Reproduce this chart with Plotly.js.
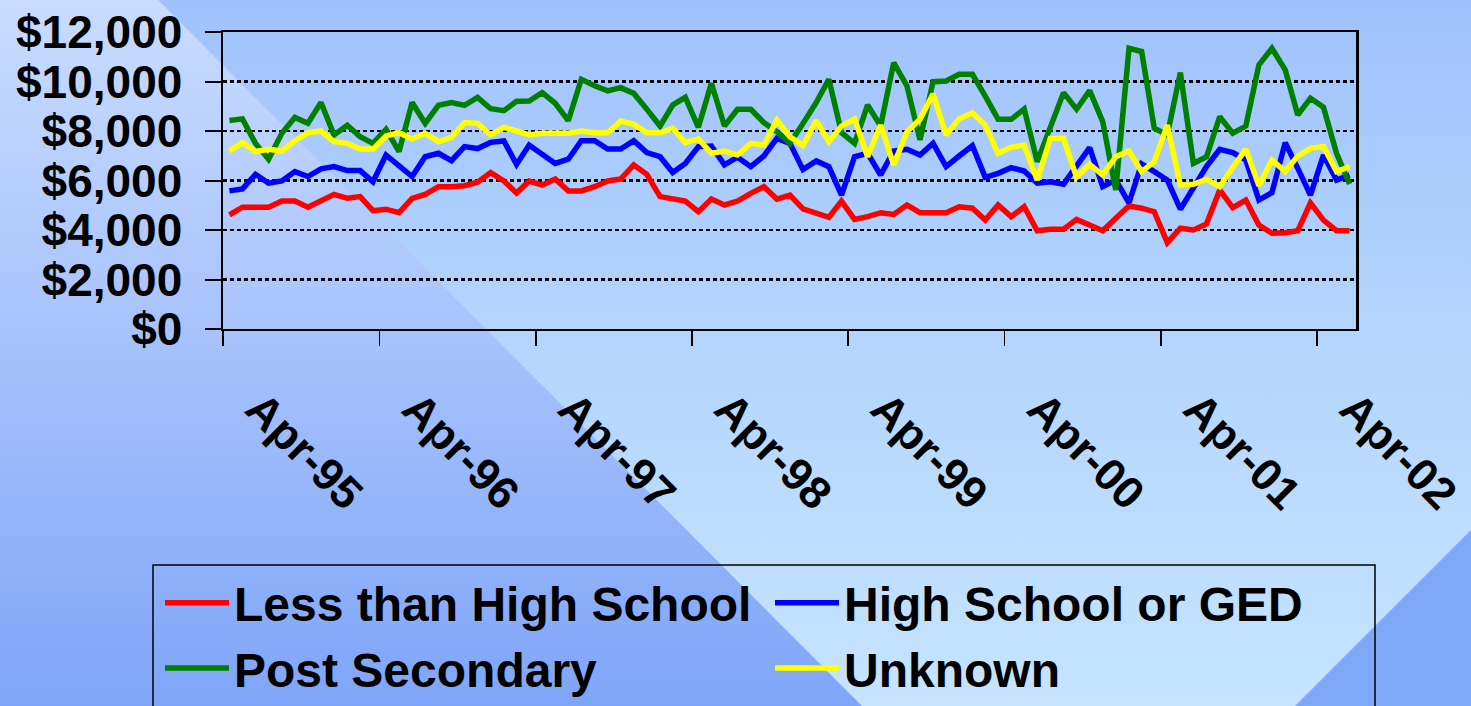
<!DOCTYPE html>
<html>
<head>
<meta charset="utf-8">
<script src="https://cdn.plot.ly/plotly-3.0.1.min.js"></script>
<style>
  html, body { margin: 0; padding: 0; width: 1471px; height: 706px; overflow: hidden; }
  .bg { position: absolute; left: 0; top: 0; width: 1471px; height: 706px; }
  #bgLeft { background: linear-gradient(to bottom, #c9dcff 0%, #a9c4fc 45%, #7fa5f8 100%); }
  #bgRight { background: linear-gradient(to bottom, #a0c2fc 0%, #b4d6fd 50%, #c6e4ff 100%);
             clip-path: polygon(158px 0, 1471px 0, 1471px 706px, 862px 706px); }
  #bgCorner { background: #80a8f8; clip-path: polygon(1471px 530px, 1471px 706px, 1295px 706px); }
  #chart { position: absolute; left: 0; top: 0; width: 1471px; height: 706px; }
</style>
</head>
<body>
<div class="bg" id="bgLeft"></div>
<div class="bg" id="bgRight"></div>
<div class="bg" id="bgCorner"></div>
<div id="chart"></div>
<script>
// monthly series, Apr-95 .. Jun-02
var months = [];
for (var k = 0; k < 87; k++) {
    var yr = 1995 + Math.floor((3 + k) / 12), mo = (3 + k) % 12 + 1;
    months.push(yr + '-' + (mo < 10 ? '0' + mo : mo) + '-01');
}

var lessHS = [4610, 4920, 4920, 4920, 5170, 5170, 4920, 5170, 5440, 5280, 5350, 4780,
    4840, 4700, 5280, 5440, 5750, 5750, 5790, 5930, 6320, 5980, 5500, 5980,
    5820, 6060, 5580, 5580, 5750, 5980, 6060, 6630, 6250, 5350, 5250, 5170,
    4740, 5250, 5010, 5170, 5480, 5750, 5250, 5410, 4850, 4700, 4510, 5170,
    4430, 4540, 4700, 4630, 5010, 4700, 4700, 4700, 4940, 4880, 4400, 5010,
    4540, 4940, 3970, 4030, 4030, 4430, 4200, 3970, 4470, 4970, 4880, 4740,
    3490, 4070, 4000, 4240, 5620, 4900, 5210, 4200, 3870, 3890, 3970, 5100,
    4400, 3970, 3970];

var hsGED = [5580, 5660, 6250, 5890, 5980, 6360, 6160, 6470, 6560, 6400, 6400, 5950,
    7030, 6600, 6160, 6960, 7100, 6800, 7370, 7290, 7540, 7600, 6650, 7430,
    7060, 6690, 6860, 7610, 7610, 7270, 7270, 7610, 7130, 6960, 6320, 6690,
    7370, 7390, 6630, 6940, 6560, 6990, 7700, 7500, 6440, 6790, 6560, 5410,
    6960, 7100, 6220, 7190, 7260, 7030, 7500, 6560, 6990, 7410, 6130, 6290,
    6520, 6380, 5890, 5950, 5850, 6630, 7330, 5750, 6020, 5100, 6670, 6360,
    6020, 4840, 5680, 6560, 7260, 7130, 6830, 5210, 5510, 7530, 6490, 5410,
    7030, 6020, 6220];

var postSec = [8420, 8490, 7500, 6860, 7910, 8550, 8310, 9150, 7840, 8230, 7770, 7500,
    8070, 7170, 9150, 8310, 9040, 9150, 9040, 9360, 8900, 8820, 9200, 9210,
    9550, 9120, 8420, 10090, 9830, 9620, 9750, 9520, 8880, 8200, 9050, 9360,
    8150, 9930, 8200, 8880, 8880, 8340, 7970, 7500, 8300, 9150, 10090, 7930,
    7500, 9050, 8200, 10760, 9820, 7640, 9990, 10020, 10290, 10290, 9410, 8470,
    8470, 8890, 6760, 8200, 9550, 8880, 9630, 8380, 5620, 11340, 11210, 8110,
    7840, 10360, 6690, 6960, 8580, 7910, 8200, 10670, 11340, 10470, 8650, 9320,
    8960, 7100, 5860];

var unknown = [7190, 7530, 7170, 7260, 7190, 7610, 7930, 8000, 7570, 7500, 7270, 7270,
    7800, 7930, 7680, 7910, 7570, 7740, 8340, 8310, 7840, 8150, 8000, 7840,
    7910, 7910, 7910, 8000, 7930, 7930, 8400, 8270, 7930, 7930, 8110, 7530,
    7680, 7100, 7190, 7030, 7500, 7430, 8440, 7770, 7410, 8420, 7570, 8200,
    8490, 6960, 8240, 6630, 7970, 8470, 9500, 7840, 8490, 8740, 8240, 7100,
    7340, 7430, 6020, 7700, 7700, 6130, 6650, 6220, 6960, 7190, 6360, 6760,
    8240, 5820, 5850, 6050, 5750, 6520, 7270, 5790, 6830, 6360, 6990, 7300,
    7370, 6360, 6560];

var seriesNames = ['Less than High School', 'High School or GED', 'Post Secondary', 'Unknown'];
var seriesColors = ['#ff0000', '#0000ff', '#008000', '#ffff00'];
// left legend column gets series 0 and 2, right column 1 and 3
var seriesLegend = ['legend', 'legend2', 'legend', 'legend2'];
var tickDates = ['1995-04-01', '1996-04-01', '1997-04-01', '1998-04-01',
    '1999-04-01', '2000-04-01', '2001-04-01', '2002-04-01'];
var tickLabels = ['Apr-95', 'Apr-96', 'Apr-97', 'Apr-98', 'Apr-99', 'Apr-00', 'Apr-01', 'Apr-02'];

var allSeries = [lessHS, hsGED, postSec, unknown];
var traces = [];
for (var s = 0; s < allSeries.length; s++) {
    traces.push({
        type: 'scatter',
        mode: 'lines',
        name: seriesNames[s],
        legend: seriesLegend[s],
        legendgroup: 'g' + s,
        x: months,
        y: allSeries[s],
        xperiod: 'M1',
        xperiodalignment: 'middle',
        line: {color: seriesColors[s], width: 5.5}
    });
}

var boldFont = {family: 'Liberation Sans, Arial, sans-serif', color: '#000', weight: 700};

function legendAt(px) {
    return {
        orientation: 'v',
        xref: 'container',
        yref: 'container',
        x: px / 1471,
        y: 1 - 565 / 706,
        xanchor: 'left',
        yanchor: 'top',
        bgcolor: 'rgba(0,0,0,0)',
        borderwidth: 0,
        itemwidth: 64,
        tracegroupgap: 13,
        traceorder: 'normal',
        font: Object.assign({size: 48}, boldFont)
    };
}

var layout = {
    width: 1471,
    height: 706,
    margin: {l: 223, r: 115, t: 32, b: 377, autoexpand: false},
    paper_bgcolor: 'rgba(0,0,0,0)',
    plot_bgcolor: 'rgba(0,0,0,0)',
    showlegend: true,
    xaxis: {
        type: 'date',
        range: ['1995-04-01', '2002-07-01'],
        tickmode: 'array',
        tickvals: tickDates,
        ticktext: tickLabels,
        tickangle: 45,
        ticklabelshift: 36,
        ticklabelstandoff: 18,
        ticks: 'outside',
        ticklen: 15,
        tickwidth: 1.5,
        tickcolor: '#000',
        showgrid: false,
        showline: true,
        linecolor: '#000',
        linewidth: 2,
        mirror: true,
        zeroline: false,
        automargin: false,
        tickfont: Object.assign({size: 45}, boldFont)
    },
    yaxis: {
        range: [0, 12000],
        tick0: 0,
        dtick: 2000,
        tickprefix: '$',
        tickformat: ',d',
        ticks: 'outside',
        ticklen: 16,
        tickwidth: 2,
        tickcolor: '#000',
        ticklabelstandoff: 13,
        showgrid: true,
        gridcolor: '#000',
        gridwidth: 2.5,
        griddash: '4px,3px',
        showline: true,
        linecolor: '#000',
        linewidth: 2.5,
        mirror: true,
        zeroline: false,
        automargin: false,
        tickfont: Object.assign({size: 46}, boldFont)
    },
    legend: legendAt(160),
    legend2: legendAt(770),
    shapes: [{
        // legend frame around both columns
        type: 'rect',
        xref: 'paper',
        yref: 'paper',
        x0: (153 - 223) / 1133,
        x1: (1375 - 223) / 1133,
        y0: (329 - 565) / 297,
        y1: (329 - 725) / 297,
        line: {color: '#000', width: 1.5},
        fillcolor: 'rgba(0,0,0,0)'
    }]
};

Plotly.newPlot('chart', traces, layout, {staticPlot: true});
</script>
</body>
</html>
